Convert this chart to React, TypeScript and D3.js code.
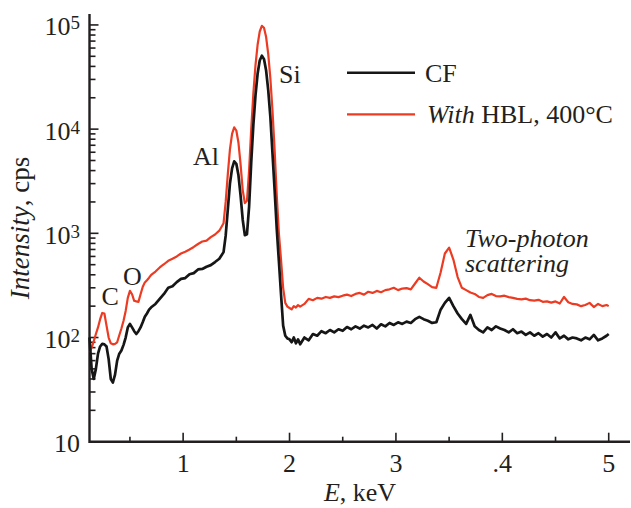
import React, { useEffect, useRef } from 'react';
import * as d3 from 'd3';

// [E keV, intensity cps]
const cfSpectrum: [number, number][] = [
  [0.12, 100], [0.14, 50], [0.16, 40], [0.18, 50], [0.2, 70], [0.22, 82], [0.24, 87], [0.26, 86],
  [0.28, 82], [0.3, 62], [0.32, 40], [0.34, 37], [0.36, 44], [0.38, 60], [0.4, 70], [0.42, 75],
  [0.44, 85], [0.46, 100], [0.48, 125], [0.5, 135], [0.52, 125], [0.54, 115], [0.56, 108], [0.58, 115],
  [0.6, 125], [0.62, 140], [0.64, 158], [0.66, 170], [0.68, 185], [0.7, 195],
  [0.74, 210], [0.78, 235], [0.82, 262], [0.86, 300], [0.9, 310], [0.94, 340], [0.98, 365], [1.02, 372],
  [1.06, 405], [1.1, 415], [1.14, 450], [1.18, 455], [1.22, 478], [1.26, 495], [1.3, 530], [1.34, 570],
  [1.38, 660],
  [1.4, 950], [1.42, 1700], [1.44, 3000], [1.46, 4200], [1.48, 4900], [1.5, 4650], [1.52, 3600],
  [1.54, 2300], [1.56, 1350], [1.58, 960], [1.6, 980], [1.62, 1800], [1.64, 4800], [1.66, 11000],
  [1.68, 21000], [1.7, 34000], [1.72, 45500], [1.74, 50700], [1.76, 47000], [1.78, 36500],
  [1.8, 23500], [1.82, 13000], [1.84, 5800], [1.86, 2600], [1.88, 1100], [1.9, 540], [1.92, 260],
  [1.94, 130], [1.96, 104], [1.98, 98], [2.0, 96], [2.02, 90], [2.04, 100], [2.06, 88], [2.08, 96],
  [2.1, 86],
  [2.14, 100], [2.18, 94], [2.22, 108], [2.26, 104], [2.3, 115], [2.34, 110], [2.38, 118], [2.42, 112],
  [2.46, 120], [2.5, 116], [2.54, 126], [2.58, 120], [2.62, 128], [2.66, 122], [2.7, 130], [2.74, 125],
  [2.78, 132], [2.82, 122], [2.86, 134], [2.9, 128], [2.94, 138], [2.98, 132], [3.02, 140], [3.06, 135],
  [3.1, 142], [3.14, 138], [3.18, 150], [3.22, 158], [3.26, 150], [3.3, 145], [3.34, 138], [3.38, 140],
  [3.42, 185], [3.46, 215], [3.5, 240], [3.54, 200], [3.58, 170], [3.62, 150], [3.66, 135], [3.7, 165],
  [3.74, 128], [3.78, 118], [3.82, 112], [3.86, 125], [3.9, 118], [3.94, 128], [3.98, 122], [4.02, 118],
  [4.06, 112], [4.1, 120], [4.14, 110], [4.18, 114], [4.22, 106], [4.26, 112], [4.3, 104], [4.34, 110],
  [4.38, 102], [4.42, 108], [4.46, 100], [4.5, 112], [4.54, 98], [4.58, 104], [4.62, 96], [4.66, 100],
  [4.7, 98], [4.74, 94], [4.78, 100], [4.82, 96], [4.86, 106], [4.9, 94], [4.94, 98], [4.98, 104],
  [5.0, 108],
];

const hblSpectrum: [number, number][] = [
  [0.12, 72], [0.14, 80], [0.16, 92], [0.18, 108], [0.2, 125], [0.22, 150], [0.24, 172], [0.26, 170],
  [0.28, 130], [0.3, 100], [0.32, 88], [0.34, 86], [0.36, 87], [0.38, 90], [0.4, 105], [0.42, 122],
  [0.44, 145], [0.46, 180], [0.48, 240], [0.5, 280], [0.52, 260], [0.54, 225], [0.56, 222], [0.58, 220],
  [0.6, 260], [0.62, 305], [0.64, 338], [0.66, 355], [0.68, 375], [0.7, 400],
  [0.74, 430], [0.78, 470], [0.82, 505], [0.86, 545], [0.9, 570], [0.94, 600], [0.98, 640], [1.02, 665],
  [1.06, 700], [1.1, 740], [1.14, 790], [1.18, 835], [1.22, 850], [1.26, 920], [1.3, 975], [1.34, 1060],
  [1.38, 1250],
  [1.4, 2000], [1.42, 3700], [1.44, 6400], [1.46, 9000], [1.48, 10400], [1.5, 9700], [1.52, 7400],
  [1.54, 4600], [1.56, 2600], [1.58, 1950], [1.6, 2050], [1.62, 4000], [1.64, 10000], [1.66, 22000],
  [1.68, 41000], [1.7, 64500], [1.72, 86500], [1.74, 98000], [1.76, 94000], [1.78, 76500],
  [1.8, 52500], [1.82, 30500], [1.84, 15000], [1.86, 6300], [1.88, 2300], [1.9, 1000], [1.92, 560],
  [1.94, 300], [1.96, 215], [1.98, 198], [2.0, 192], [2.02, 186], [2.04, 200], [2.06, 194], [2.08, 205],
  [2.1, 198],
  [2.14, 210], [2.18, 235], [2.22, 228], [2.26, 240], [2.3, 236], [2.34, 245], [2.38, 240], [2.42, 248],
  [2.46, 244], [2.5, 252], [2.54, 258], [2.58, 250], [2.62, 262], [2.66, 268], [2.7, 258], [2.74, 275],
  [2.78, 268], [2.82, 280], [2.86, 272], [2.9, 285], [2.94, 290], [2.98, 300], [3.02, 285], [3.06, 295],
  [3.1, 298], [3.14, 290], [3.18, 330], [3.22, 375], [3.26, 345], [3.3, 325], [3.34, 305], [3.38, 300],
  [3.42, 420], [3.46, 640], [3.5, 730], [3.54, 560], [3.58, 380], [3.62, 300], [3.66, 285], [3.7, 270],
  [3.74, 262], [3.78, 245], [3.82, 240], [3.86, 255], [3.9, 262], [3.94, 250], [3.98, 248], [4.02, 252],
  [4.06, 244], [4.1, 240], [4.14, 235], [4.18, 232], [4.22, 236], [4.26, 228], [4.3, 226], [4.34, 230],
  [4.38, 220], [4.42, 222], [4.46, 216], [4.5, 222], [4.54, 212], [4.58, 245], [4.62, 218], [4.66, 210],
  [4.7, 208], [4.74, 200], [4.78, 205], [4.82, 215], [4.86, 196], [4.9, 210], [4.94, 200], [4.98, 205],
  [5.0, 200],
];

const yTickPowers = [1, 2, 3, 4, 5];
const xTickValues = [1, 2, 3, 4, 5];
const xTickLabels = ['1', '2', '3', '.4', '5'];
const xMinorTicks = [0.5, 1.5, 2.5, 3.5, 4.5];

const FONT = "'Liberation Serif', 'Times New Roman', serif";
const INK = '#231f20';
const RED = '#ec3b22';

export default function App() {
  const svgRef = useRef<SVGSVGElement>(null);

  useEffect(() => {
    const svg = d3.select(svgRef.current);
    svg.selectAll('*').remove();

    const x = d3.scaleLinear().domain([0.12, 5.2]).range([89.5, 630]);
    const y = d3.scaleLog().domain([10, Math.pow(10, 5.105)]).range([441.7, 14]);
    const [y0] = y.range();
    const [x0, x1] = x.range();

    const g = svg.append('g').attr('font-family', FONT).attr('fill', INK);

    // minor y ticks 2..9 per decade
    const yMinor: number[] = [];
    yTickPowers.slice(0, -1).forEach(p => {
      for (let k = 2; k <= 9; k++) yMinor.push(k * Math.pow(10, p));
    });

    const ticks = g.append('g').attr('stroke', INK).attr('stroke-width', 1.6);
    ticks.selectAll('.ymaj').data(yTickPowers.slice(1)).join('line')
      .attr('x1', x0).attr('x2', x0 + 9)
      .attr('y1', p => y(Math.pow(10, p))).attr('y2', p => y(Math.pow(10, p)));
    ticks.selectAll('.ymin').data(yMinor).join('line')
      .attr('x1', x0).attr('x2', x0 + 6)
      .attr('y1', d => y(d)).attr('y2', d => y(d));
    ticks.selectAll('.xmaj').data(xTickValues).join('line')
      .attr('x1', d => x(d)).attr('x2', d => x(d))
      .attr('y1', y0).attr('y2', y0 - 9);
    ticks.selectAll('.xmin').data(xMinorTicks).join('line')
      .attr('x1', d => x(d)).attr('x2', d => x(d))
      .attr('y1', y0).attr('y2', y0 - 5);

    g.append('path')
      .attr('d', `M${x0},14V${y0}H${x1}`)
      .attr('fill', 'none').attr('stroke', INK).attr('stroke-width', 2.4);

    // y tick labels 10, 10^2 ...
    yTickPowers.forEach(p => {
      const t = g.append('text')
        .attr('x', 80).attr('y', y(Math.pow(10, p)) + 10.5)
        .attr('text-anchor', 'end').attr('font-size', 26);
      t.append('tspan').text('10');
      if (p > 1) t.append('tspan').attr('dy', -6).attr('font-size', 19).text(String(p));
    });

    g.selectAll('.xlab').data(xTickValues).join('text')
      .attr('x', d => x(d)).attr('y', y0 + 30)
      .attr('text-anchor', 'middle').attr('font-size', 26)
      .text((d, i) => xTickLabels[i]);

    const xt = g.append('text').attr('x', 360).attr('y', 501)
      .attr('text-anchor', 'middle').attr('font-size', 26);
    xt.append('tspan').attr('font-style', 'italic').text('E');
    xt.append('tspan').text(', keV');

    const yt = g.append('text').attr('transform', 'translate(28.5,228) rotate(-90)')
      .attr('text-anchor', 'middle').attr('font-size', 27);
    yt.append('tspan').attr('font-style', 'italic').text('Intensity');
    yt.append('tspan').text(', cps');

    const line = d3.line<[number, number]>().x(d => x(d[0])).y(d => y(d[1]));
    g.append('path').datum(hblSpectrum).attr('d', line)
      .attr('fill', 'none').attr('stroke', RED).attr('stroke-width', 2.2).attr('stroke-linejoin', 'round');
    g.append('path').datum(cfSpectrum).attr('d', line)
      .attr('fill', 'none').attr('stroke', '#161616').attr('stroke-width', 2.7).attr('stroke-linejoin', 'round');

    // peak labels
    const note = (tx: number, ty: number, s: string, italic = false) =>
      g.append('text').attr('x', tx).attr('y', ty).attr('font-size', 26)
        .attr('font-style', italic ? 'italic' : 'normal').text(s);
    note(279, 83, 'Si');
    note(193, 165, 'Al');
    note(101.5, 305, 'C');
    note(123, 285, 'O');
    note(465, 247, 'Two-photon', true);
    note(465, 271.5, 'scattering', true);

    // legend
    g.append('line').attr('x1', 347).attr('x2', 415).attr('y1', 72.7).attr('y2', 72.7)
      .attr('stroke', '#161616').attr('stroke-width', 2.4);
    g.append('text').attr('x', 425).attr('y', 82).attr('font-size', 26).text('CF');
    g.append('line').attr('x1', 347).attr('x2', 415).attr('y1', 114.3).attr('y2', 114.3)
      .attr('stroke', RED).attr('stroke-width', 2.2);
    const lt = g.append('text').attr('x', 427).attr('y', 123).attr('font-size', 26);
    lt.append('tspan').attr('font-style', 'italic').text('With');
    lt.append('tspan').text(' HBL, 400°C');
  }, []);

  return (
    <svg ref={svgRef} width={631} height={508}
      style={{ position: 'absolute', left: 0, top: 0, background: '#fff' }} />
  );
}
